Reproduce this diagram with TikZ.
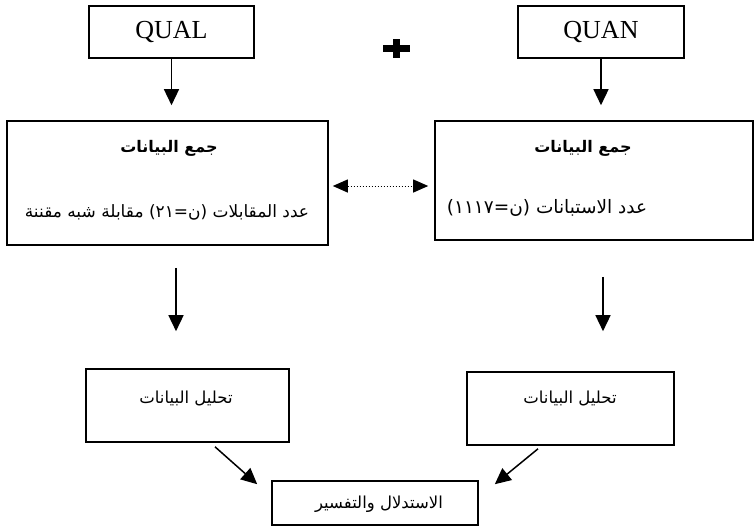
\documentclass[tikz,border=0pt]{standalone}
\usepackage{fontspec}
\setmainfont{Liberation Serif}
\newfontfamily\arabicfont[Script=Arabic]{DejaVu Sans}
\TeXXeTstate=1
\usetikzlibrary{arrows.meta}

\begin{document}
\begin{tikzpicture}[x=1pt,y=1pt,
  box/.style={draw, line width=1.6pt, inner sep=0pt, rectangle},
  latin/.style={font=\fontsize{26}{30}\selectfont},
  ar/.style={font=\arabicfont\fontsize{16.5}{20}\selectfont, inner sep=0pt},
  arline/.style={font=\arabicfont\fontsize{17}{20}\selectfont, inner sep=0pt},
  arb/.style={font=\arabicfont\bfseries\fontsize{16}{19}\selectfont, inner sep=0pt},
  flow/.style={-{Triangle[length=16pt,width=15pt]}, line width=1.5pt},
  link/.style={{Triangle[length=15pt,width=13pt]}-{Triangle[length=15pt,width=13pt]}, line width=1pt, dotted},
]
\useasboundingbox (0,0) rectangle (755,-528);

% top boxes
\node[box, latin, minimum width=165pt, minimum height=52pt] (qual) at (171.5,-32) {QUAL};
\node[box, latin, minimum width=166pt, minimum height=52pt] (quan) at (601,-32) {QUAN};
\node[inner sep=0pt, minimum size=2pt] (plus) at (396,-48) {};
\fill ([shift={(-13.5,-3.5)}]plus.center) rectangle ([shift={(13.5,3.5)}]plus.center);
\fill ([shift={(-3.5,-9.5)}]plus.center) rectangle ([shift={(3.5,9.5)}]plus.center);

% collection boxes
\node[box, minimum width=321pt, minimum height=124pt] (collL) at (167.5,-183) {};
\node[box, minimum width=318pt, minimum height=119pt] (collR) at (594,-180.5) {};
\node[arb] (hL) at (169,-148) {\beginR جمع البيانات\endR};
\node[arline] (tL) at (167,-212) {\beginR عدد المقابلات (ن=٢١) مقابلة شبه مقننة\endR};
\node[arb] (hR) at (583,-148) {\beginR جمع البيانات\endR};
\node[arline, font=\arabicfont\fontsize{18.5}{22}\selectfont] (tR) at (547,-208) {\beginR عدد الاستبانات (ن=١١١٧)\endR};

% analysis boxes
\node[box, minimum width=203pt, minimum height=73pt] (anL) at (187.5,-405.5) {};
\node[box, minimum width=207pt, minimum height=73pt] (anR) at (570.5,-408.5) {};
\node[ar] (aLt) at (186,-398) {\beginR تحليل البيانات\endR};
\node[ar] (aRt) at (570,-398) {\beginR تحليل البيانات\endR};

% final box
\node[box, minimum width=206pt, minimum height=44pt] (fin) at (375,-503) {};
\node[ar] (ft) at (379,-504) {\beginR الاستدلال والتفسير\endR};

% helper coordinates
\coordinate (xl) at (176,0);
\coordinate (xr) at (603,0);
\coordinate (ym) at (0,-186);

% connectors
\draw[flow, shorten >=15pt] (qual.south) -- (qual.south |- collL.north);
\draw[flow, shorten >=15pt] (quan.south) -- (quan.south |- collR.north);
\draw[link, shorten <=4pt, shorten >=6pt] (collL.east |- ym) -- (collR.west |- ym);
\draw[flow, shorten <=22pt, shorten >=37pt] (collL.south -| xl) -- (anL.north -| xl);
\draw[flow, shorten <=36pt, shorten >=40pt] (collR.south -| xr) -- (anR.north -| xr);
\draw[flow] ([shift={(27.5,-4)}]anL.south) -- ([shift={(-14,-4)}]fin.north west);
\draw[flow] ([shift={(-32.5,-3)}]anR.south) -- ([shift={(16,-4)}]fin.north east);
\end{tikzpicture}
\end{document}
